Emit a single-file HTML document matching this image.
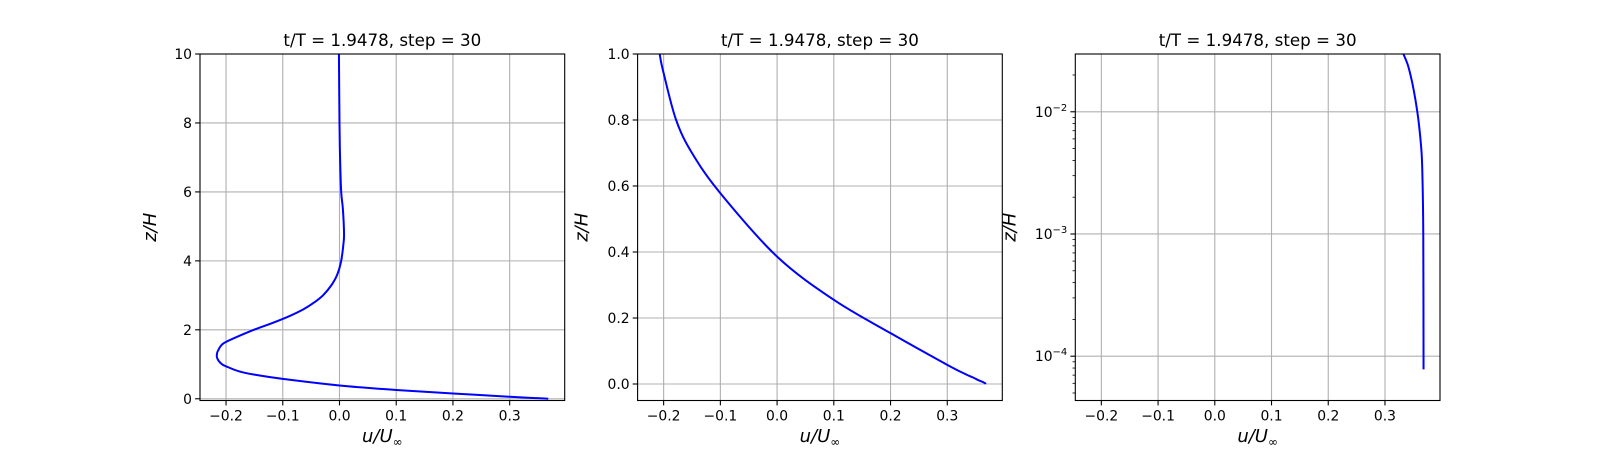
<!DOCTYPE html>
<html><head><meta charset="utf-8"><style>
html,body{margin:0;padding:0;background:#fff;}
svg{display:block;font-family:"DejaVu Sans","Liberation Sans",sans-serif;}
</style></head><body>
<svg id="fig" width="1600" height="450" viewBox="0 0 1600 450" xmlns="http://www.w3.org/2000/svg"></svg>
<script>
const zVals=[7.8e-5,1e-3,3e-3,5e-3,0.01,0.02,0.03,0.058,0.154,0.255,0.386,0.578,0.7,0.8,0.942,1.0,1.1,1.2,1.3,1.4,1.6,1.8,2.0,2.2,2.4,2.6,2.8,3.0,3.3,3.6,4.0,4.5,4.8,5.5,6,7,8,10];
const uVals=[0.368,0.3675,0.366,0.364,0.357,0.345,0.332,0.30,0.2,0.1,0.0,-0.1,-0.15,-0.178,-0.2,-0.207,-0.213,-0.216,-0.216,-0.214,-0.205,-0.18,-0.151,-0.118,-0.088,-0.063,-0.044,-0.029,-0.014,-0.004,0.003,0.007,0.008,0.006,0.003,0.001,0.0,-0.001];
const xTicks=[-0.2,-0.1,0.0,0.1,0.2,0.3];
const xTickLabels=["\u22120.2","\u22120.1","0.0","0.1","0.2","0.3"];
const y1Ticks=[0,2,4,6,8,10];
const y2Ticks=[0,0.2,0.4,0.6,0.8,1.0];
const y2TickLabels=["0.0","0.2","0.4","0.6","0.8","1.0"];
const y3Exps=[-4,-3,-2];
const titleText="t/T = 1.9478, step = 30";

const NS="http://www.w3.org/2000/svg";
const svg=document.getElementById('fig');
function mk(tag,attrs,parent){const e=document.createElementNS(NS,tag);for(const k in attrs)e.setAttribute(k,attrs[k]);(parent||svg).appendChild(e);return e;}

const top_=54,bot=400.5,W=364.7;
const lefts=[200,637.6,1075.3];
const xmin=-0.2459,xmax=0.397;
const panels=[
 {ymin:-0.05,ymax:10,log:false,ticks:y1Ticks,labels:y1Ticks.map(String),yl:44},
 {ymin:-0.05,ymax:1,log:false,ticks:y2Ticks,labels:y2TickLabels,yl:50},
 {ymin:4.34e-5,ymax:2.97e-2,log:true,yl:60}
];
panels.forEach((p,i)=>{
  const L=lefts[i],R=L+W;
  const g=mk('g',{});
  
  
  const X=u=>L+(u-xmin)/(xmax-xmin)*W;
  const Y=p.log?(z=>bot-(Math.log10(z)-Math.log10(p.ymin))/(Math.log10(p.ymax)-Math.log10(p.ymin))*(bot-top_))
               :(z=>bot-(z-p.ymin)/(p.ymax-p.ymin)*(bot-top_));
  const cid='clip'+i;
  const cp=mk('clipPath',{id:cid},g);mk('rect',{x:L,y:top_,width:W,height:bot-top_},cp);
  xTicks.forEach((t,k)=>{
    const x=X(t);
    const gl=mk('line',{x1:x,x2:x,y1:top_,y2:bot,stroke:'#b0b0b0','stroke-width':1.1},g);
    
    mk('line',{x1:x,x2:x,y1:bot,y2:bot+4.9,stroke:'#000','stroke-width':1.1},g);
    const tx=mk('text',{x:x,y:bot+20,'font-size':13.9,'text-anchor':'middle',fill:'#000'},g);
    tx.textContent=xTickLabels[k];
    
  });
  if(!p.log){
    p.ticks.forEach((t,k)=>{
      const y=Y(t);
      mk('line',{x1:L,x2:R,y1:y,y2:y,stroke:'#b0b0b0','stroke-width':1.1},g);
      mk('line',{x1:L-4.9,x2:L,y1:y,y2:y,stroke:'#000','stroke-width':1.1},g);
      const ty=mk('text',{x:L-8,y:y+5,'font-size':13.9,'text-anchor':'end',fill:'#000'},g);
      ty.textContent=p.labels[k];
      
    });
  } else {
    for(let e=-5;e<=-1;e++){for(let m=2;m<=9;m++){const z=m*Math.pow(10,e);if(z<p.ymin||z>p.ymax)continue;const y=Y(z);
      mk('line',{x1:L-2.8,x2:L,y1:y,y2:y,stroke:'#000','stroke-width':0.8},g);}}
    y3Exps.forEach(e=>{
      const y=Y(Math.pow(10,e));
      mk('line',{x1:L,x2:R,y1:y,y2:y,stroke:'#b0b0b0','stroke-width':1.1},g);
      mk('line',{x1:L-4.9,x2:L,y1:y,y2:y,stroke:'#000','stroke-width':1.1},g);
      const ty=mk('text',{x:L-8,y:y+5,'font-size':13.9,'text-anchor':'end',fill:'#000'},g);
      
      const t1=mk('tspan',{},ty);t1.textContent='10';
      const t2=mk('tspan',{dy:-6,'font-size':10},ty);t2.textContent='\u2212'+(-e);
    });
  }
  const pts=zVals.map((z,k)=>[X(uVals[k]),Y(z)]);
  let d='M'+pts[0][0].toFixed(2)+','+pts[0][1].toFixed(2);
  for(let k=0;k<pts.length-1;k++){
    const p0=pts[Math.max(0,k-1)],p1=pts[k],p2=pts[k+1],p3=pts[Math.min(pts.length-1,k+2)];
    const c1=[p1[0]+(p2[0]-p0[0])/6,p1[1]+(p2[1]-p0[1])/6];
    const c2=[p2[0]-(p3[0]-p1[0])/6,p2[1]-(p3[1]-p1[1])/6];
    d+='C'+c1[0].toFixed(2)+','+c1[1].toFixed(2)+' '+c2[0].toFixed(2)+','+c2[1].toFixed(2)+' '+p2[0].toFixed(2)+','+p2[1].toFixed(2);
  }
  const path=mk('path',{d:d,fill:'none',stroke:'#0000ff','stroke-width':2,'stroke-linejoin':'round','clip-path':'url(#'+cid+')'},g);
  
  const fr=mk('rect',{x:L,y:top_,width:W,height:bot-top_,fill:'none',stroke:'#000','stroke-width':1.1},g);
  
  const ti=mk('text',{x:L+W/2,y:top_-8,'font-size':16.7,'text-anchor':'middle',fill:'#000'},g);
  ti.textContent=titleText;
  
  const xl=mk('text',{x:L+W/2,y:442,'font-size':18,'text-anchor':'middle','font-style':'italic',fill:'#000'},g);
  
  const a=mk('tspan',{},xl);a.textContent='u/U';
  const b=mk('tspan',{'font-size':12,dy:4,'font-style':'normal'},xl);b.textContent='\u221e';
  const yx=L-p.yl, yy=(top_+bot)/2;
  const yl=mk('text',{x:yx,y:yy,'font-size':18,'text-anchor':'middle','font-style':'italic',fill:'#000',transform:'rotate(-90 '+yx+' '+yy+')'},g);
  yl.textContent='z/H';
  
});
</script>
</body></html>
